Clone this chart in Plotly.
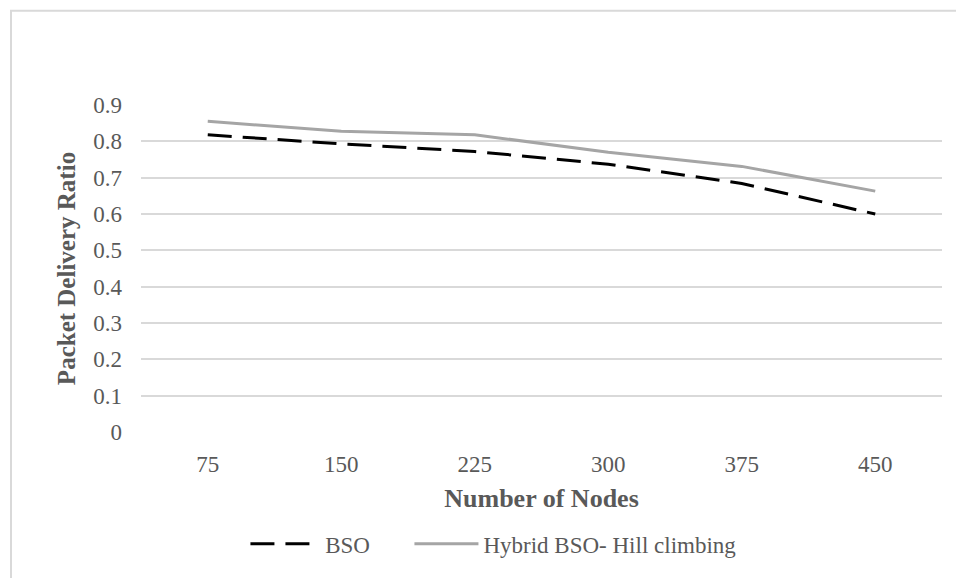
import plotly.graph_objects as go

nodes = ["75", "150", "225", "300", "375", "450"]
bso = [0.818, 0.793, 0.772, 0.737, 0.684, 0.600]
hybrid = [0.855, 0.828, 0.818, 0.770, 0.731, 0.663]
y_ticks = [0, 0.1, 0.2, 0.3, 0.4, 0.5, 0.6, 0.7, 0.8, 0.9]
y_tick_labels = ["0", "0.1", "0.2", "0.3", "0.4", "0.5", "0.6", "0.7", "0.8", "0.9"]
series_names = ["BSO", "Hybrid BSO- Hill climbing"]

FONT = "Liberation Serif"
GREY = "#595959"
NB = "\u00a0"

fig = go.Figure()
fig.add_trace(go.Scatter(x=nodes, y=bso, mode="lines", name=NB + series_names[0] + NB * 6,
                         line=dict(color="#000000", width=3, dash="24px,11px")))
fig.add_trace(go.Scatter(x=nodes, y=hybrid, mode="lines", name=series_names[1],
                         line=dict(color="#a5a5a5", width=3)))

fig.update_layout(
    width=956, height=578,
    margin=dict(l=141, r=14, t=105, b=143),
    paper_bgcolor="white", plot_bgcolor="white",
    font=dict(family=FONT, color=GREY, size=23),
    xaxis=dict(type="category", range=[-0.5, 5.5], showgrid=False, showline=False, ticks="",
               tickfont=dict(family=FONT, size=23, color=GREY), ticklabelstandoff=16,
               title=dict(text="<b>Number of Nodes</b>", font=dict(family=FONT, size=26, color=GREY), standoff=12)),
    yaxis=dict(range=[0, 0.9], tickvals=y_ticks, ticktext=y_tick_labels,
               showgrid=True, gridcolor="#d9d9d9", gridwidth=1.5, zeroline=False,
               showline=False, ticks="", ticklabelstandoff=18,
               tickfont=dict(family=FONT, size=23, color=GREY),
               title=dict(text="<b>Packet Delivery Ratio</b>", font=dict(family=FONT, size=25, color=GREY), standoff=10)),
    legend=dict(orientation="h", x=0.44, xanchor="center", y=-0.342, yanchor="middle",
                font=dict(family=FONT, size=23, color=GREY), itemwidth=64,
                bgcolor="rgba(0,0,0,0)"),
    shapes=[dict(type="rect", xref="paper", yref="paper",
                 x0=(11 - 141) / 801, x1=1.2, y0=-0.6, y1=(435 - 10) / 330,
                 line=dict(color="#d9d9d9", width=2), fillcolor="rgba(0,0,0,0)", layer="below")],
)

fig.write_html("out.html")
